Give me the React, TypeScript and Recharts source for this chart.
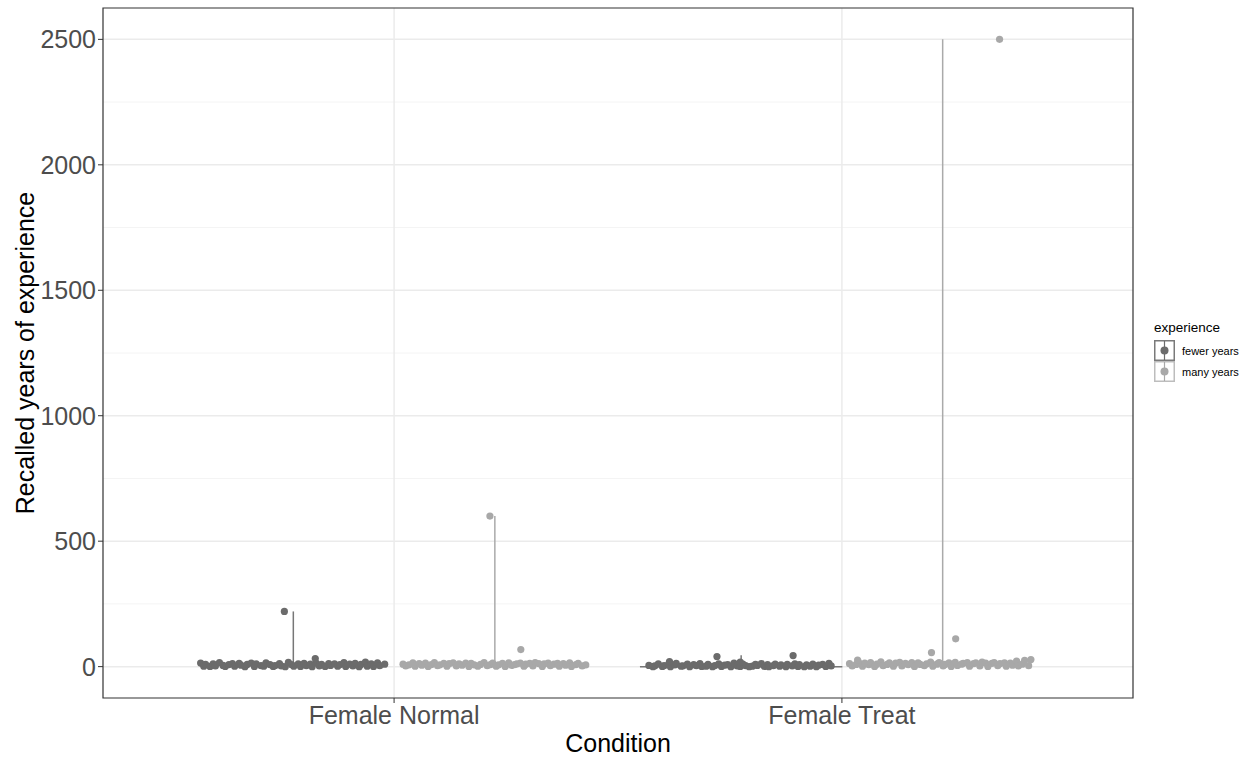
import React from "react"
import {
  ScatterChart,
  Scatter,
  XAxis,
  YAxis,
  CartesianGrid,
  ReferenceLine,
  ReferenceArea,
} from "recharts"

const categories = ["Female Normal", "Female Treat"]
const yTicks = [0, 500, 1000, 1500, 2000, 2500]
const yMinor = [250, 750, 1250, 1750, 2250]

// jitter offsets (in category units) and recalled years, per condition / experience
const normalFewerJitter = [
  -0.207, -0.2, -0.196, -0.186, -0.179, -0.174, -0.165, -0.157, -0.152, -0.144, -0.136, -0.131, -0.121, -0.117, -0.108,
  -0.103, -0.094, -0.087, -0.083, -0.072, -0.066, -0.061, -0.052, -0.045, -0.041, -0.031, -0.027, -0.018, -0.011, -0.004,
  0.001, 0.011, 0.016, 0.024, 0.029, 0.038, 0.042, 0.051, 0.058, 0.063, 0.071, 0.079, 0.083, 0.092, 0.099, 0.104, 0.113,
  0.117, 0.126, 0.133, 0.138, 0.147, 0.151, 0.161, 0.165, 0.174, 0.179, 0.188, 0.193, 0.204, -0.02, 0.049,
]
const normalFewerYears = [
  14, 2, 9, 1, 11, 3, 16, 5, 1, 8, 12, 2, 13, 6, 0, 9, 14, 1, 11, 4, 2, 15, 8, 1, 4, 12, 3, 0, 17, 8, 2, 11, 1, 13, 4,
  10, 0, 14, 3, 9, 1, 12, 5, 11, 2, 8, 16, 1, 10, 3, 13, 0, 9, 18, 2, 11, 1, 15, 4, 10, 220, 32,
]

const normalManyJitter = [
  -0.205, -0.199, -0.192, -0.183, -0.178, -0.169, -0.163, -0.155, -0.149, -0.142, -0.135, -0.128, -0.123, -0.114, -0.107,
  -0.102, -0.093, -0.086, -0.08, -0.073, -0.065, -0.058, -0.053, -0.046, -0.038, -0.032, -0.024, -0.017, -0.01, -0.005,
  0.003, 0.008, 0.017, 0.023, 0.031, 0.037, 0.044, 0.049, 0.057, 0.065, 0.069, 0.078, 0.085, 0.09, 0.098, 0.106, 0.11,
  0.119, 0.124, 0.132, 0.14, 0.144, 0.153, 0.158, 0.167, 0.171, 0.181, 0.186, 0.195, 0.203, -0.011, 0.058,
]
const normalManyYears = [
  10, 3, 7, 15, 2, 12, 6, 14, 1, 8, 16, 4, 7, 13, 2, 12, 15, 3, 11, 6, 14, 1, 13, 7, 2, 9, 16, 4, 8, 14, 2, 7, 13, 1, 15,
  5, 8, 11, 14, 2, 10, 13, 3, 16, 12, 1, 11, 14, 4, 10, 13, 2, 12, 6, 15, 1, 8, 13, 3, 7, 600, 68,
]

const treatFewerJitter = [
  -0.206, -0.197, -0.193, -0.185, -0.176, -0.172, -0.162, -0.158, -0.148, -0.145, -0.134, -0.13, -0.12, -0.115, -0.106,
  -0.1, -0.092, -0.088, -0.078, -0.074, -0.064, -0.059, -0.05, -0.044, -0.037, -0.03, -0.023, -0.016, -0.009, -0.002,
  0.004, 0.01, 0.018, 0.025, 0.032, 0.036, 0.045, 0.052, 0.059, 0.062, 0.072, 0.076, 0.086, 0.089, 0.1, 0.103, 0.114,
  0.12, 0.127, 0.13, 0.141, 0.146, 0.154, 0.16, 0.168, 0.173, 0.182, 0.189, 0.196, 0.201, -0.054, 0.116, -0.16, -0.002,
]
const treatFewerYears = [
  5, 0, 3, 11, 1, 4, 9, 0, 7, 13, 2, 3, 10, 0, 8, 4, 12, 1, 2, 9, 0, 4, 11, 1, 6, 8, 0, 14, 3, 1, 10, 4, 0, 2, 9, 5, 12,
  1, 8, 0, 4, 10, 2, 7, 0, 9, 3, 11, 1, 8, 0, 7, 2, 10, 0, 6, 9, 1, 13, 3, 40, 44, 20, 18,
]

const treatManyJitter = [
  -0.208, -0.202, -0.193, -0.188, -0.179, -0.174, -0.165, -0.161, -0.152, -0.147, -0.138, -0.133, -0.124, -0.119, -0.11,
  -0.105, -0.096, -0.091, -0.083, -0.077, -0.069, -0.063, -0.055, -0.05, -0.041, -0.036, -0.027, -0.022, -0.013, -0.008,
  0.001, 0.005, 0.014, 0.019, 0.028, 0.033, 0.042, 0.046, 0.055, 0.06, 0.069, 0.074, 0.083, 0.088, 0.096, 0.101, 0.11,
  0.115, 0.123, 0.128, 0.138, 0.142, 0.151, 0.156, 0.165, 0.169, 0.178, 0.183, 0.192, 0.197, -0.025, 0.029, 0.127, -0.19,
]
const treatManyYears = [
  12, 3, 9, 18, 2, 14, 8, 16, 1, 10, 19, 4, 9, 15, 2, 14, 17, 3, 13, 8, 16, 1, 15, 9, 4, 11, 18, 2, 10, 16, 3, 9, 15, 1,
  17, 5, 10, 13, 16, 2, 12, 15, 3, 18, 14, 1, 13, 16, 4, 12, 15, 2, 14, 6, 22, 3, 10, 25, 4, 28, 56, 111, 2500, 26,
]

// top of each (very thin) violin
const violinMax = [220, 600, 45, 2500]

const FEWER = "#6b6b6b"
const MANY = "#a8a8a8"
const FEWER_LINE = "#777777"
const MANY_LINE = "#aaaaaa"
const DODGE = 0.225

const toPoints = (pos: number, jitter: number[], years: number[]) =>
  years.map((y, i) => ({ x: pos + jitter[i], y }))

const fewerPoints = [
  ...toPoints(1 - DODGE, normalFewerJitter, normalFewerYears),
  ...toPoints(2 - DODGE, treatFewerJitter, treatFewerYears),
]
const manyPoints = [
  ...toPoints(1 + DODGE, normalManyJitter, normalManyYears),
  ...toPoints(2 + DODGE, treatManyJitter, treatManyYears),
]
const violinX = [1 - DODGE, 1 + DODGE, 2 - DODGE, 2 + DODGE]

const FONT = "'Liberation Sans', Arial, Helvetica, sans-serif"

const dot = (fill: string) => (p: any) => <circle cx={p.cx} cy={p.cy} r={3.6} fill={fill} />

function LegendBlock() {
  const keys = [
    { label: "fewer years", color: FEWER, border: "#7a7a7a" },
    { label: "many years", color: MANY, border: "#bdbdbd" },
  ]
  return (
    <div style={{ position: "absolute", left: 1154, top: 320, fontFamily: FONT, color: "#000" }}>
      <div style={{ fontSize: 13.5, marginBottom: 5 }}>experience</div>
      {keys.map((k) => (
        <div key={k.label} style={{ display: "flex", alignItems: "center", height: 21 }}>
          <svg width={21} height={21}>
            <rect x={0.75} y={0.75} width={19.5} height={19.5} fill="#fff" stroke={k.border} strokeWidth={1.5} />
            <line x1={10.5} y1={1} x2={10.5} y2={20} stroke={k.color} strokeWidth={1.2} />
            <circle cx={10.5} cy={10.5} r={4} fill={k.color} />
          </svg>
          <span style={{ fontSize: 11, marginLeft: 7 }}>{k.label}</span>
        </div>
      ))}
    </div>
  )
}

export default function App() {
  return (
    <div style={{ position: "absolute", left: 0, top: 0, width: 1251, height: 757, background: "#fff" }}>
      <ScatterChart width={1251} height={757} margin={{ top: 8, right: 118, bottom: 0, left: 0 }}>
        <CartesianGrid horizontalValues={yMinor} vertical={false} stroke="#f4f4f4" strokeWidth={1} />
        <CartesianGrid horizontalValues={yTicks} verticalValues={[1, 2]} stroke="#ebebeb" strokeWidth={1.5} />
        <XAxis
          type="number"
          dataKey="x"
          domain={[0.35, 2.65]}
          ticks={[1, 2]}
          tickFormatter={(v: number) => categories[v - 1]}
          allowDataOverflow
          height={59}
          axisLine={false}
          tickSize={5}
          tickMargin={3}
          tickLine={{ stroke: "#333" }}
          tick={{ fill: "#4d4d4d", fontSize: 25, fontFamily: FONT }}
          label={{ value: "Condition", position: "insideBottom", offset: 5, fill: "#000", fontSize: 25, fontFamily: FONT }}
        />
        <YAxis
          type="number"
          dataKey="y"
          domain={[-125, 2625]}
          ticks={yTicks}
          allowDataOverflow
          width={103}
          axisLine={false}
          tickSize={5}
          tickMargin={2}
          tickLine={{ stroke: "#333" }}
          tick={{ fill: "#4d4d4d", fontSize: 25, fontFamily: FONT }}
          label={{
            value: "Recalled years of experience",
            angle: -90,
            position: "insideLeft",
            offset: 25,
            style: { textAnchor: "middle" },
            fill: "#000",
            fontSize: 25,
            fontFamily: FONT,
          }}
        />
        {violinX.map((vx, i) => (
          <ReferenceLine
            key={i}
            segment={[
              { x: vx, y: 0 },
              { x: vx, y: violinMax[i] },
            ]}
            stroke={i % 2 === 0 ? FEWER_LINE : MANY_LINE}
            strokeWidth={1.5}
          />
        ))}
        <ReferenceLine
          segment={[
            { x: 2 - DODGE - 0.226, y: 0 },
            { x: 2 - DODGE + 0.226, y: 0 },
          ]}
          stroke={FEWER_LINE}
          strokeWidth={1.5}
        />
        <Scatter name="fewer years" data={fewerPoints} shape={dot(FEWER)} isAnimationActive={false} />
        <Scatter name="many years" data={manyPoints} shape={dot(MANY)} isAnimationActive={false} />
        <ReferenceArea x1={0.35} x2={2.65} y1={-125} y2={2625} fill="none" stroke="#333" strokeWidth={1.2} />
      </ScatterChart>
      <LegendBlock />
    </div>
  )
}
